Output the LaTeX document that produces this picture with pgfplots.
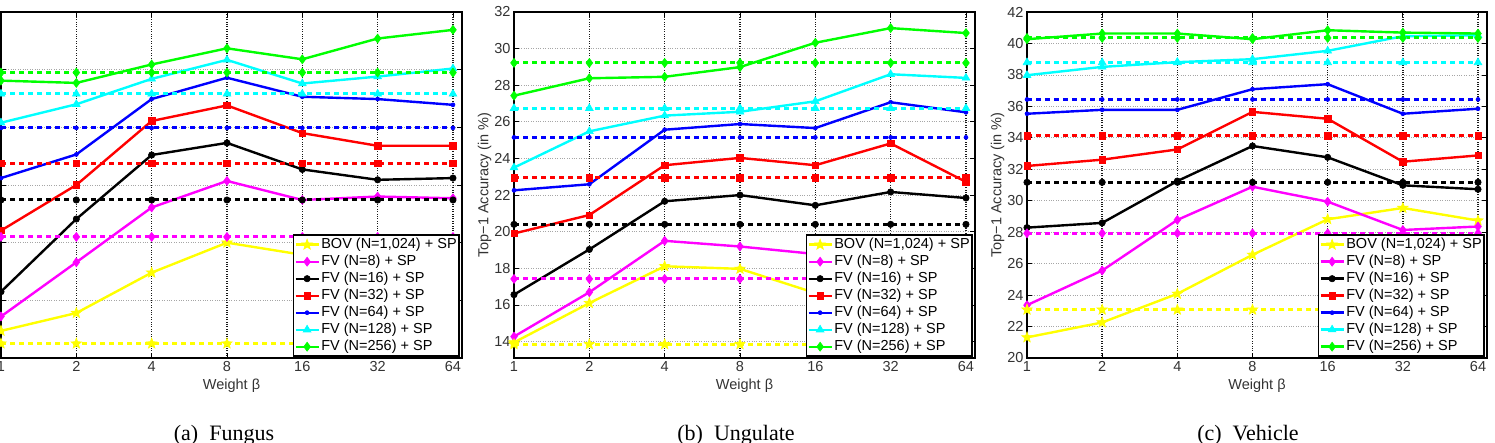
\documentclass[border=0pt]{standalone}
\usepackage{pgfplots}
\pgfplotsset{compat=1.18}
\usepackage{fontspec}
\setmainfont{Liberation Sans}
\newfontfamily\capfont{Liberation Serif}

\definecolor{cY}{rgb}{1,1,0}
\definecolor{cM}{rgb}{1,0,1}
\definecolor{cK}{rgb}{0,0,0}
\definecolor{cR}{rgb}{1,0,0}
\definecolor{cB}{rgb}{0,0,1}
\definecolor{cC}{rgb}{0,1,1}
\definecolor{cG}{rgb}{0,1,0}

\pgfdeclareplotmark{pentagram}{%
  \pgfpathmoveto{\pgfpointpolar{90}{\pgfplotmarksize}}%
  \pgfpathlineto{\pgfpointpolar{126}{0.42\pgfplotmarksize}}%
  \pgfpathlineto{\pgfpointpolar{162}{\pgfplotmarksize}}%
  \pgfpathlineto{\pgfpointpolar{198}{0.42\pgfplotmarksize}}%
  \pgfpathlineto{\pgfpointpolar{234}{\pgfplotmarksize}}%
  \pgfpathlineto{\pgfpointpolar{270}{0.42\pgfplotmarksize}}%
  \pgfpathlineto{\pgfpointpolar{306}{\pgfplotmarksize}}%
  \pgfpathlineto{\pgfpointpolar{342}{0.42\pgfplotmarksize}}%
  \pgfpathlineto{\pgfpointpolar{18}{\pgfplotmarksize}}%
  \pgfpathlineto{\pgfpointpolar{54}{0.42\pgfplotmarksize}}%
  \pgfpathclose
  \pgfusepathqfillstroke
}

\pgfplotsset{
  myaxis/.style={
    scale only axis, height=346pt,
    xmin=0, xmax=6.12,
    xtick={0,...,6}, xticklabels={1,2,4,8,16,32,64},
    grid=major,
    x grid style={black!90, dotted, line width=1.5pt},
    y grid style={black!35, dotted, line width=0.8pt},
    tick align=inside,
    major tick length=5pt,
    tick style={black, line width=0.8pt},
    axis line style={black, line width=2pt},
    clip=false,
    font=\fontsize{14.5}{17}\selectfont,
    tick label style={black!80},
    label style={black!80},
    /pgf/number format/assume math mode=true,
    xlabel={Weight β},
    legend cell align=left,
    legend style={at={(1,0)}, anchor=south east, xshift=-2pt, yshift=1pt,
      draw=black, line width=1.6pt, fill=white,
      font=\fontsize{14.5}{17}\selectfont,
      inner sep=1pt, row sep=0pt,
      nodes={inner sep=1.5pt, text height=10.5pt, text depth=3.5pt}},
    legend image code/.code={\draw[mark repeat=2,mark phase=2] plot coordinates {(0pt,0pt) (11.5pt,0pt) (23pt,0pt)};},
  },
  sol/.style={line width=2.4pt, solid},
  dsh/.style={line width=3pt, dash pattern=on 5pt off 4pt, forget plot},
  sY/.style={cY, mark=pentagram, mark size=5.5pt, mark options={solid, fill=cY, line width=0.6pt}},
  sM/.style={cM, mark=diamond*, mark size=4.5pt, mark options={solid, fill=cM, line width=0.6pt}},
  sK/.style={cK, mark=*, mark size=3.2pt, mark options={solid, fill=cK, line width=0.6pt}},
  sR/.style={cR, mark=square*, mark size=3.2pt, mark options={solid, fill=cR, line width=0.6pt}},
  sB/.style={cB, mark=*, mark size=2pt, mark options={solid, fill=cB, line width=0.6pt}},
  sC/.style={cC, mark=triangle*, mark size=4.5pt, mark options={solid, fill=cC, line width=0.6pt}},
  sG/.style={cG, mark=diamond*, mark size=4.5pt, mark options={solid, fill=cG, line width=0.6pt}},
}

\begin{document}
\begin{tikzpicture}
\useasboundingbox (0,0) rectangle (1495pt,-443pt);

% (a) Fungus
\begin{axis}[myaxis, at={(1pt,-12pt)}, anchor=north west, width=461pt,
  ymin=10, ymax=22, ytick={10,12,...,22}, yticklabels={}]
\addplot[sY, sol] coordinates {(0,10.94)(1,11.56)(2,12.96)(3,14.00)(4,13.58)(5,13.30)(6,13.40)};
\addlegendentry{BOV (N=1,024) + SP}
\addplot[sM, sol] coordinates {(0,11.44)(1,13.32)(2,15.22)(3,16.14)(4,15.48)(5,15.60)(6,15.54)};
\addlegendentry{FV (N=8) + SP}
\addplot[sK, sol] coordinates {(0,12.30)(1,14.82)(2,17.04)(3,17.46)(4,16.54)(5,16.18)(6,16.24)};
\addlegendentry{FV (N=16) + SP}
\addplot[sR, sol] coordinates {(0,14.42)(1,16.00)(2,18.22)(3,18.76)(4,17.80)(5,17.36)(6,17.36)};
\addlegendentry{FV (N=32) + SP}
\addplot[sB, sol] coordinates {(0,16.24)(1,17.06)(2,18.98)(3,19.72)(4,19.06)(5,18.98)(6,18.78)};
\addlegendentry{FV (N=64) + SP}
\addplot[sC, sol] coordinates {(0,18.16)(1,18.80)(2,19.68)(3,20.34)(4,19.52)(5,19.76)(6,20.04)};
\addlegendentry{FV (N=128) + SP}
\addplot[sG, sol] coordinates {(0,19.62)(1,19.54)(2,20.18)(3,20.74)(4,20.36)(5,21.08)(6,21.38)};
\addlegendentry{FV (N=256) + SP}
\addplot[sY, dsh] coordinates {(0,10.50)(1,10.50)(2,10.50)(3,10.50)(4,10.50)(5,10.50)(6,10.50)};
\addplot[sM, dsh] coordinates {(0,14.20)(1,14.20)(2,14.20)(3,14.20)(4,14.20)(5,14.20)(6,14.20)};
\addplot[sK, dsh] coordinates {(0,15.48)(1,15.48)(2,15.48)(3,15.48)(4,15.48)(5,15.48)(6,15.48)};
\addplot[sR, dsh] coordinates {(0,16.76)(1,16.76)(2,16.76)(3,16.76)(4,16.76)(5,16.76)(6,16.76)};
\addplot[sB, dsh] coordinates {(0,17.98)(1,17.98)(2,17.98)(3,17.98)(4,17.98)(5,17.98)(6,17.98)};
\addplot[sC, dsh] coordinates {(0,19.16)(1,19.16)(2,19.16)(3,19.16)(4,19.16)(5,19.16)(6,19.16)};
\addplot[sG, dsh] coordinates {(0,19.90)(1,19.90)(2,19.90)(3,19.90)(4,19.90)(5,19.90)(6,19.90)};
\end{axis}

% (b) Ungulate
\begin{axis}[myaxis, at={(514pt,-12pt)}, anchor=north west, width=461pt,
  ymin=13.1, ymax=32, ytick={14,16,...,32}, ylabel={Top−1 Accuracy (in \%)},
  ylabel style={yshift=-4pt}]
\addplot[sY, sol] coordinates {(0,13.95)(1,16.10)(2,18.11)(3,17.97)(4,16.65)(5,16.80)(6,16.50)};
\addlegendentry{BOV (N=1,024) + SP}
\addplot[sM, sol] coordinates {(0,14.27)(1,16.69)(2,19.50)(3,19.19)(4,18.78)(5,18.90)(6,18.60)};
\addlegendentry{FV (N=8) + SP}
\addplot[sK, sol] coordinates {(0,16.56)(1,19.03)(2,21.66)(3,22.00)(4,21.44)(5,22.17)(6,21.84)};
\addlegendentry{FV (N=16) + SP}
\addplot[sR, sol] coordinates {(0,19.90)(1,20.91)(2,23.63)(3,24.03)(4,23.63)(5,24.82)(6,22.72)};
\addlegendentry{FV (N=32) + SP}
\addplot[sB, sol] coordinates {(0,22.26)(1,22.59)(2,25.57)(3,25.88)(4,25.66)(5,27.07)(6,26.52)};
\addlegendentry{FV (N=64) + SP}
\addplot[sC, sol] coordinates {(0,23.50)(1,25.48)(2,26.34)(3,26.55)(4,27.12)(5,28.60)(6,28.40)};
\addlegendentry{FV (N=128) + SP}
\addplot[sG, sol] coordinates {(0,27.43)(1,28.38)(2,28.46)(3,28.99)(4,30.32)(5,31.12)(6,30.85)};
\addlegendentry{FV (N=256) + SP}
\addplot[sY, dsh] coordinates {(0,13.85)(1,13.85)(2,13.85)(3,13.85)(4,13.85)(5,13.85)(6,13.85)};
\addplot[sM, dsh] coordinates {(0,17.42)(1,17.42)(2,17.42)(3,17.42)(4,17.42)(5,17.42)(6,17.42)};
\addplot[sK, dsh] coordinates {(0,20.40)(1,20.40)(2,20.40)(3,20.40)(4,20.40)(5,20.40)(6,20.40)};
\addplot[sR, dsh] coordinates {(0,22.95)(1,22.95)(2,22.95)(3,22.95)(4,22.95)(5,22.95)(6,22.95)};
\addplot[sB, dsh] coordinates {(0,25.15)(1,25.15)(2,25.15)(3,25.15)(4,25.15)(5,25.15)(6,25.15)};
\addplot[sC, dsh] coordinates {(0,26.74)(1,26.74)(2,26.74)(3,26.74)(4,26.74)(5,26.74)(6,26.74)};
\addplot[sG, dsh] coordinates {(0,29.22)(1,29.22)(2,29.22)(3,29.22)(4,29.22)(5,29.22)(6,29.22)};
\end{axis}

% (c) Vehicle
\begin{axis}[myaxis, at={(1027pt,-12pt)}, anchor=north west, width=460pt,
  ymin=20, ymax=42, ytick={20,22,...,42}, ylabel={Top−1 Accuracy (in \%)},
  ylabel style={yshift=-4pt}]
\addplot[sY, sol] coordinates {(0,21.31)(1,22.26)(2,24.08)(3,26.56)(4,28.82)(5,29.54)(6,28.74)};
\addlegendentry{BOV (N=1,024) + SP}
\addplot[sM, sol] coordinates {(0,23.36)(1,25.56)(2,28.78)(3,30.89)(4,29.94)(5,28.14)(6,28.36)};
\addlegendentry{FV (N=8) + SP}
\addplot[sK, sol] coordinates {(0,28.29)(1,28.59)(2,31.25)(3,33.48)(4,32.76)(5,30.98)(6,30.73)};
\addlegendentry{FV (N=16) + SP}
\addplot[sR, sol] coordinates {(0,32.21)(1,32.61)(2,33.26)(3,35.65)(4,35.21)(5,32.48)(6,32.88)};
\addlegendentry{FV (N=32) + SP}
\addplot[sB, sol] coordinates {(0,35.53)(1,35.78)(2,35.78)(3,37.09)(4,37.41)(5,35.53)(6,35.85)};
\addlegendentry{FV (N=64) + SP}
\addplot[sC, sol] coordinates {(0,37.98)(1,38.51)(2,38.81)(3,39.00)(4,39.53)(5,40.46)(6,40.52)};
\addlegendentry{FV (N=128) + SP}
\addplot[sG, sol] coordinates {(0,40.27)(1,40.63)(2,40.63)(3,40.27)(4,40.84)(5,40.69)(6,40.63)};
\addlegendentry{FV (N=256) + SP}
\addplot[sY, dsh] coordinates {(0,23.07)(1,23.07)(2,23.07)(3,23.07)(4,23.07)(5,23.07)(6,23.07)};
\addplot[sM, dsh] coordinates {(0,27.93)(1,27.93)(2,27.93)(3,27.93)(4,27.93)(5,27.93)(6,27.93)};
\addplot[sK, dsh] coordinates {(0,31.17)(1,31.17)(2,31.17)(3,31.17)(4,31.17)(5,31.17)(6,31.17)};
\addplot[sR, dsh] coordinates {(0,34.13)(1,34.13)(2,34.13)(3,34.13)(4,34.13)(5,34.13)(6,34.13)};
\addplot[sB, dsh] coordinates {(0,36.44)(1,36.44)(2,36.44)(3,36.44)(4,36.44)(5,36.44)(6,36.44)};
\addplot[sC, dsh] coordinates {(0,38.79)(1,38.79)(2,38.79)(3,38.79)(4,38.79)(5,38.79)(6,38.79)};
\addplot[sG, dsh] coordinates {(0,40.35)(1,40.35)(2,40.35)(3,40.35)(4,40.35)(5,40.35)(6,40.35)};
\end{axis}

\node[font=\capfont\fontsize{22}{24}\selectfont, anchor=base] at (224pt,-440pt) {(a)\hspace{0.5em}Fungus};
\node[font=\capfont\fontsize{22}{24}\selectfont, anchor=base] at (736pt,-440pt) {(b)\hspace{0.5em}Ungulate};
\node[font=\capfont\fontsize{22}{24}\selectfont, anchor=base] at (1248pt,-440pt) {(c)\hspace{0.5em}Vehicle};
\end{tikzpicture}
\end{document}
